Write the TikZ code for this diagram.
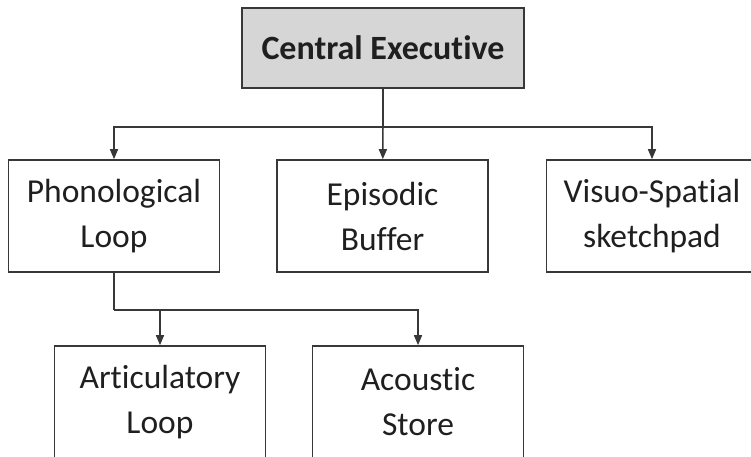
\documentclass[tikz,border=0pt]{standalone}
\usepackage{fontspec}
\setmainfont{Carlito}[Ligatures=NoCommon]
\usetikzlibrary{arrows.meta}
\definecolor{linec}{gray}{0.22}
\definecolor{boxfill}{gray}{0.84}
\definecolor{textc}{gray}{0.12}
\tikzset{
  box/.style={draw=linec, line width=1.6pt, minimum width=211pt, minimum height=112pt,
    inner sep=0pt, align=center, text=textc, font=\fontsize{33.5}{45}\selectfont},
  topbox/.style={box, fill=boxfill, minimum width=282pt, minimum height=80pt, font=\fontsize{34}{45}\selectfont\bfseries},
  conn/.style={draw=linec, line width=1.5pt},
  arr/.style={conn, -{Triangle[length=10pt,width=8pt]}}
}
\begin{document}
\begin{tikzpicture}[x=1pt,y=-1pt]
\useasboundingbox (0,0) rectangle (751,456);
\node[topbox] (ce) at (383,48) {Central Executive};
\node[box] (phon) at (114,216) {Phonological\\Loop};
\node[box] (epis) at (382.5,216) {Episodic\\Buffer};
\node[box] (visuo) at (652,216) {Visuo-Spatial\\sketchpad};
\node[box] (artic) at (160,402) {Articulatory\\Loop};
\node[box] (acou) at (418,402) {Acoustic\\Store};
\coordinate (j1) at (383,127);
\coordinate (j2) at (114,310);
\draw[conn] (ce) -- (j1);
\draw[arr] (j1) -| (phon);
\draw[arr] (j1) -- (epis);
\draw[arr] (j1) -| (visuo);
\draw[conn] (phon) -- (j2);
\draw[arr] (j2) -| (artic);
\draw[arr] (j2) -| (acou);
\end{tikzpicture}
\end{document}
